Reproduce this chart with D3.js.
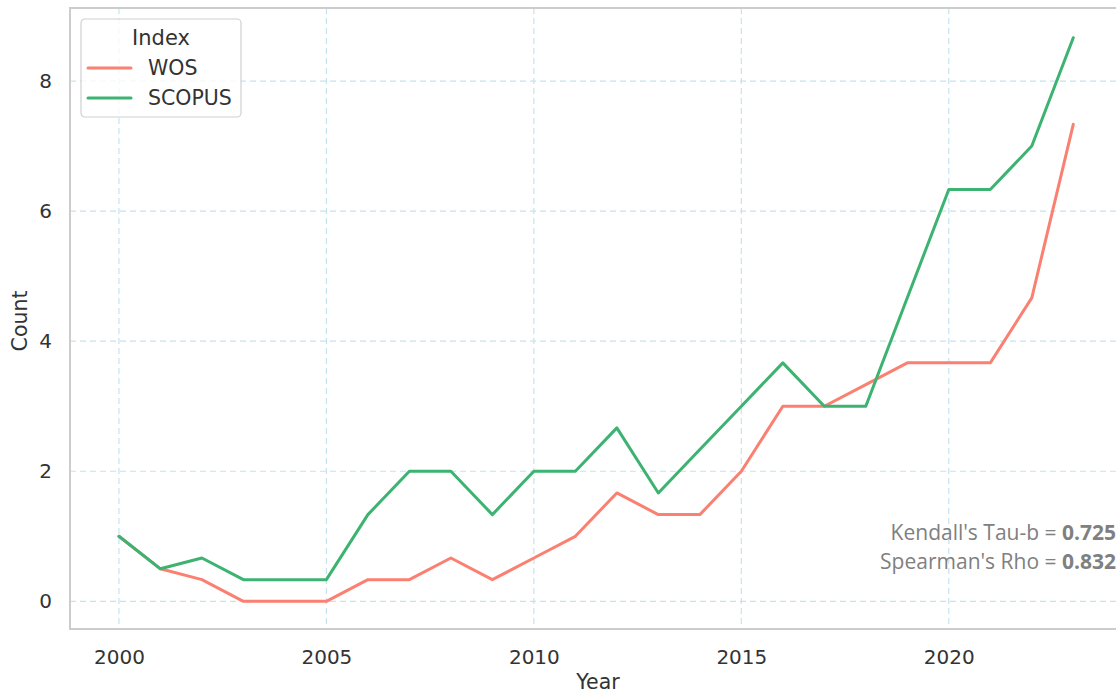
<!DOCTYPE html>
<html>
<head>
<meta charset="utf-8">
<script src="https://cdn.jsdelivr.net/npm/d3@7"></script>
<style>
  body { margin: 0; background: #fff; }
  svg { display: block; font-family: "DejaVu Sans", sans-serif; }
</style>
</head>
<body>
<div id="chart"></div>
<script>
// values (3-year means, so thirds)
var years = d3.range(2000, 2024);
var wos = [1, 0.5, 1/3, 0, 0, 0, 1/3, 1/3, 2/3, 1/3, 2/3, 1, 5/3, 4/3, 4/3, 2, 3, 3, 10/3, 11/3, 11/3, 11/3, 14/3, 22/3];
var scopus = [1, 0.5, 2/3, 1/3, 1/3, 1/3, 4/3, 2, 2, 4/3, 2, 2, 8/3, 5/3, 7/3, 3, 11/3, 3, 3, 14/3, 19/3, 19/3, 7, 26/3];
var seriesNames = ["WOS", "SCOPUS"];
var seriesColors = ["#fa8072", "#3cb371"];
var xTicks = [2000, 2005, 2010, 2015, 2020];
var yTicks = [0, 2, 4, 6, 8];
var stats = [["Kendall's Tau-b = ", "0.725"], ["Spearman's Rho = ", "0.832"]];

var width = 1116, height = 694;
var margin = {left: 70, top: 8, right: -5, bottom: 64};

var svg = d3.select("#chart").append("svg")
  .attr("width", width)
  .attr("height", height);

var x = d3.scaleLinear()
  .domain([1998.85, 2024.15])
  .range([margin.left + 1.2, width - margin.right]);
var y = d3.scaleLinear()
  .domain([-0.433, 9.1])
  .range([height - margin.bottom - 0.5, margin.top + 1.5]);

var plotL = margin.left, plotR = width - margin.right;
var plotT = margin.top, plotB = height - margin.bottom - 1;

// grid
var grid = svg.append("g").attr("stroke", "#c5e3ee").attr("stroke-width", 1.2)
  .attr("stroke-dasharray", "6,4");
grid.selectAll(".gx").data(xTicks).enter().append("line")
  .attr("x1", d => x(d)).attr("x2", d => x(d))
  .attr("y1", plotT).attr("y2", plotB);
grid.selectAll(".gy").data(yTicks).enter().append("line")
  .attr("x1", plotL).attr("x2", plotR)
  .attr("y1", d => y(d)).attr("y2", d => y(d));

// spines
svg.append("rect")
  .attr("x", plotL).attr("y", plotT)
  .attr("width", plotR - plotL).attr("height", plotB - plotT)
  .attr("fill", "none").attr("stroke", "#cccccc").attr("stroke-width", 2);

// axes (labels only, no tick marks)
var xAxis = svg.append("g")
  .attr("transform", "translate(0," + plotB + ")")
  .call(d3.axisBottom(x).tickValues(xTicks).tickFormat(d3.format("d")).tickSize(0).tickPadding(21));
var yAxis = svg.append("g")
  .attr("transform", "translate(" + plotL + ",0)")
  .call(d3.axisLeft(y).tickValues(yTicks).tickFormat(d3.format("d")).tickSize(0).tickPadding(18));
[xAxis, yAxis].forEach(function(a){
  a.select(".domain").remove();
  a.selectAll("text").attr("font-size", 20).attr("fill", "#333")
    .attr("font-family", "DejaVu Sans, sans-serif");
});

svg.append("text")
  .attr("x", 598).attr("y", 689)
  .attr("text-anchor", "middle").attr("font-size", 20.5).attr("fill", "#333")
  .text("Year");
svg.append("text")
  .attr("transform", "translate(27,321) rotate(-90)")
  .attr("text-anchor", "middle").attr("font-size", 20.5).attr("fill", "#333")
  .text("Count");

// lines
var line = d3.line().x((d, i) => x(years[i])).y(d => y(d));
[wos, scopus].forEach(function(vals, k){
  svg.append("path")
    .datum(vals)
    .attr("fill", "none")
    .attr("stroke", seriesColors[k])
    .attr("stroke-width", 3)
    .attr("stroke-linejoin", "round")
    .attr("stroke-linecap", "round")
    .attr("d", line);
});

// legend
var lg = svg.append("g").attr("transform", "translate(81,19)");
lg.append("rect")
  .attr("width", 160).attr("height", 98).attr("rx", 4)
  .attr("fill", "#fff").attr("fill-opacity", 0.8)
  .attr("stroke", "#d0d0d0").attr("stroke-width", 1.2);
lg.append("text").attr("x", 80).attr("y", 26).attr("text-anchor", "middle")
  .attr("font-size", 21).attr("fill", "#333").text("Index");
seriesNames.forEach(function(name, i){
  var row = lg.append("g").attr("transform", "translate(0," + (49 + i * 30) + ")");
  row.append("line").attr("x1", 7).attr("x2", 50)
    .attr("stroke", seriesColors[i]).attr("stroke-width", 3).attr("stroke-linecap", "round");
  row.append("text").attr("x", 67).attr("y", 7)
    .attr("font-size", 20.5).attr("fill", "#333").text(name);
});

// correlation annotation
stats.forEach(function(s, i){
  var t = svg.append("text")
    .attr("x", 1116).attr("y", 540 + i * 29)
    .attr("text-anchor", "end")
    .attr("font-family", "'Open Sans', sans-serif")
    .attr("font-size", 21).attr("fill", "#808080");
  t.append("tspan").text(s[0]);
  t.append("tspan").attr("font-weight", "bold").text(s[1]);
});
</script>
</body>
</html>
